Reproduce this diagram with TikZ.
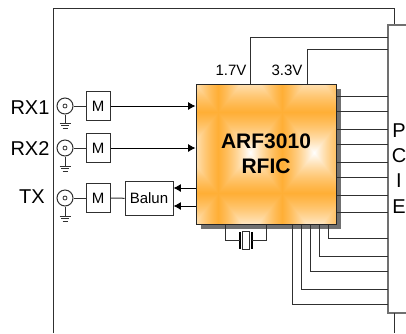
\documentclass[tikz,border=0pt]{standalone}
\usepackage{fontspec}
\setmainfont{Liberation Sans}
\usetikzlibrary{arrows.meta,calc}
\pgfdeclarefunctionalshading{cellgrad}{\pgfpoint{-50bp}{-50bp}}{\pgfpoint{50bp}{50bp}}{}{
abs exch abs 2 copy lt {exch} if pop 50 div
1.08 mul 1 exch sub dup 0 lt {pop 0} if dup mul dup 0.40 mul 0.60 add exch 1 3 1 roll
}
\definecolor{wire}{HTML}{303030}
\definecolor{panelc}{HTML}{707070}
\tikzset{
  wireline/.style={draw=wire,line width=0.75pt},
  panel/.style={draw=panelc,line width=1pt},
  smalltxt/.style={font=\fontsize{11.25}{13}\selectfont,inner sep=0pt,text=black},
  bigtxt/.style={font=\fontsize{15}{17}\selectfont,inner sep=0pt,text=black},
  mbox/.style={draw=wire,line width=0.75pt,fill=white,minimum width=18pt,minimum height=22pt,inner sep=0pt,font=\fontsize{11.25}{13}\selectfont},
  jack/.style={circle,draw=wire,line width=0.75pt,minimum size=12pt,inner sep=0pt,fill=white},
  jackpin/.style={circle,draw=wire,line width=0.6pt,minimum size=3pt,inner sep=0pt},
  sig/.style={wireline,-{Latex[length=5.5pt,width=6pt]},color=black},
  gndbar/.style={draw=wire,line width=0.75pt},
}
\begin{document}
\begin{tikzpicture}[x=0.75pt,y=-0.75pt]
\useasboundingbox (0,0) rectangle (406,333);
% outer frame
\coordinate (ptop) at (388,25);
\coordinate (pbot) at (388,313);
\draw[wireline] (53,333) -- (53,8) -- (394,8) -- (394,25);
\draw[panel] (406,25) -- (ptop) -- (pbot) -- (406,313);
\draw[wireline] (394,313) -- (394,333);
% chip
\fill[panelc] (201,89) rectangle (341,229);
\begin{scope}
  \clip (196,84) rectangle (336,224);
  \foreach \xa/\xb in {154/218,218/282,282/346}
    \foreach \ya/\yb in {31/112,112/193,193/274}
      \shade[shading=cellgrad] (\xa,\ya) rectangle (\xb,\yb);
\end{scope}
\node[draw=black!85,line width=0.75pt,minimum size=105pt,inner sep=0pt] (chip) at (266,154) {};
\node[font=\bfseries\fontsize{15.75}{18}\selectfont,inner sep=0pt] (chipa) at (266,141) {ARF3010};
\node[font=\bfseries\fontsize{15.75}{18}\selectfont,inner sep=0pt] (chipb) at (266,166) {RFIC};
% supply
\node[smalltxt] (v17) at (231,70) {1.7V};
\node[smalltxt] (v33) at (287,70) {3.3V};
\draw[wireline] (chip.north -| 250,0) -- (250,37) -- (ptop |- 0,37);
\draw[wireline] (chip.north -| 307,0) -- (307,49) -- (ptop |- 0,49);
% right pins
\foreach \y in {96,111,129,144,162,177,195,212}
  \draw[wireline] (chip.east |- 0,\y) -- (ptop |- 0,\y);
% bottom pins
\foreach \x/\y in {328/238,319/256,310/271,301/289,292/304}
  \draw[wireline] (chip.south -| \x,0) -- (\x,\y) -- (ptop |- 0,\y);
% crystal
\node[draw=wire,line width=0.75pt,fill=white,minimum width=5.25pt,minimum height=14pt,inner sep=0pt] (xtal) at (245.5,240.5) {};
\coordinate (pl) at (240,240.5);
\coordinate (pr) at (252,240.5);
\draw[draw=black,line width=1.2pt] (240,232) -- (240,249);
\draw[draw=black,line width=0.9pt] (252,232) -- (252,249);
\draw[wireline] (chip.south -| 225,0) -- (225,240.5) -- (pl);
\draw[wireline] (chip.south -| 266,0) -- (266,240.5) -- (pr);
% PCIE
\node[bigtxt] (lp) at (399,131) {P};
\node[bigtxt] (lc) at (399,156) {C};
\node[bigtxt] (li) at (399,181) {I};
\node[bigtxt] (le) at (399,207) {E};
% RF chain
\foreach \n/\y/\g/\lab/\lx/\ly in {a/106/123/RX1/30/108,b/148/166/RX2/30/149,c/198/216/TX/32/197}{
  \node[jack] (j\n) at (65,\y) {};
  \node[jackpin] (jp\n) at (65,\y) {};
  \node[mbox] (m\n) at (98,\y) {M};
  \node[bigtxt] (l\n) at (\lx,\ly) {\lab};
  \draw[wireline] (j\n) -- (m\n);
  \coordinate (g\n) at (65,\g);
  \draw[wireline] (j\n) -- (g\n);
  \draw[gndbar] ($(g\n)+(-5.5,0)$) -- ($(g\n)+(5.5,0)$);
  \draw[gndbar] ($(g\n)+(-4,2.5)$) -- ($(g\n)+(4,2.5)$);
  \draw[gndbar] ($(g\n)+(-2.5,5)$) -- ($(g\n)+(2.5,5)$);
}
\node[draw=wire,line width=0.75pt,fill=white,minimum width=36pt,minimum height=26pt,inner sep=0pt,font=\fontsize{11.25}{13}\selectfont] (balun) at (149,198.5) {Balun};
\draw[wireline] (mc) -- (balun);
\draw[sig] (ma) -- (chip.west |- ma);
\draw[sig] (mb) -- (chip.west |- mb);
\draw[sig] (chip.west |- 0,188) -- (balun.east |- 0,188);
\draw[sig] (chip.west |- 0,206) -- (balun.east |- 0,206);
\end{tikzpicture}
\end{document}
